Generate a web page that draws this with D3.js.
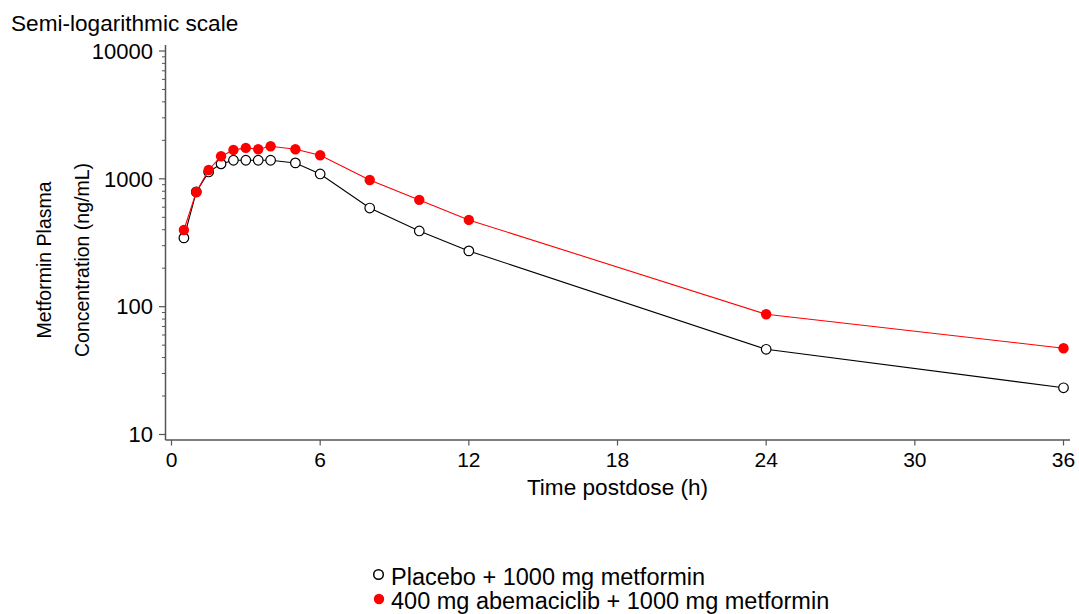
<!DOCTYPE html>
<html>
<head>
<meta charset="utf-8">
<script src="https://cdn.jsdelivr.net/npm/d3@7"></script>
<style>
  html, body { margin: 0; padding: 0; background: #fff; }
  svg { display: block; font-family: Arial, "Liberation Sans", sans-serif; }
</style>
</head>
<body>
<svg id="chart" width="1079" height="614"></svg>
<script>
// ---- data ----
const times = [0.5, 1, 1.5, 2, 2.5, 3, 3.5, 4, 5, 6, 8, 10, 12, 24, 36];
const placebo = [345, 790, 1132, 1309, 1398, 1398, 1398, 1398, 1332, 1092, 591, 391, 273, 46.4, 23.2];
const abemaciclib = [398, 789, 1173, 1503, 1683, 1745, 1704, 1799, 1704, 1530, 980, 684, 477, 87.2, 47.3];
const xTicks = [0, 6, 12, 18, 24, 30, 36];
const yTicks = [10, 100, 1000, 10000];
const seriesNames = ["Placebo + 1000 mg metformin", "400 mg abemaciclib + 1000 mg metformin"];
const titleText = "Semi-logarithmic scale";
const xTitle = "Time postdose (h)";
const yTitleLines = ["Metformin Plasma", "Concentration (ng/mL)"];

// ---- layout ----
const svg = d3.select("#chart");
const axisColor = "#555";
const x = d3.scaleLinear().domain([0, 36]).range([171.5, 1063.5]);
const y = d3.scaleLog().domain([10, 10000]).range([434.5, 51]);
const axisX = 165.5, axisY = 440;

// title
svg.append("text").attr("x", 11).attr("y", 31).attr("font-size", 22.6).attr("fill", "#000").text(titleText);

// y axis
svg.append("line").attr("x1", axisX).attr("x2", axisX).attr("y1", 45).attr("y2", axisY)
  .attr("stroke", axisColor).attr("stroke-width", 1.5);
const minor = [];
for (let d = 10; d < 10000; d *= 10) for (let k = 2; k <= 9; k++) minor.push(d * k);
svg.append("g").selectAll("line").data(minor).join("line")
  .attr("x1", axisX - 3.5).attr("x2", axisX).attr("y1", d => y(d)).attr("y2", d => y(d))
  .attr("stroke", axisColor).attr("stroke-width", 1);
svg.append("g").selectAll("line").data(yTicks).join("line")
  .attr("x1", axisX - 6.5).attr("x2", axisX).attr("y1", d => y(d)).attr("y2", d => y(d))
  .attr("stroke", axisColor).attr("stroke-width", 1.2);
svg.append("g").selectAll("text").data(yTicks).join("text")
  .attr("x", 153).attr("y", d => y(d)).attr("dy", "0.35em").attr("text-anchor", "end")
  .attr("font-size", 22).text(d => d);

// x axis
svg.append("line").attr("x1", axisX).attr("x2", 1070).attr("y1", axisY).attr("y2", axisY)
  .attr("stroke", axisColor).attr("stroke-width", 1.5);
svg.append("g").selectAll("line").data(xTicks).join("line")
  .attr("x1", d => x(d)).attr("x2", d => x(d)).attr("y1", axisY).attr("y2", axisY + 5.5)
  .attr("stroke", axisColor).attr("stroke-width", 1.2);
svg.append("g").selectAll("text").data(xTicks).join("text")
  .attr("x", d => x(d)).attr("y", 467).attr("text-anchor", "middle")
  .attr("font-size", 21).text(d => d);

// axis titles
svg.append("text").attr("x", (x(0) + x(36)) / 2).attr("y", 495).attr("text-anchor", "middle")
  .attr("font-size", 22.6).text(xTitle);
const yt = svg.append("g").attr("transform", "translate(0,260) rotate(-90)");
yt.append("text").attr("x", 0).attr("y", 51).attr("text-anchor", "middle").attr("font-size", 19.5).text(yTitleLines[0]);
yt.append("text").attr("x", 0).attr("y", 89).attr("text-anchor", "middle").attr("font-size", 19.5).text(yTitleLines[1]);

// series
const line = d3.line().x(d => x(d[0])).y(d => y(d[1]));
const pData = times.map((t, i) => [t, placebo[i]]);
const aData = times.map((t, i) => [t, abemaciclib[i]]);

svg.append("path").datum(pData).attr("d", line).attr("fill", "none").attr("stroke", "#000").attr("stroke-width", 1.1);
svg.append("g").selectAll("circle").data(pData).join("circle")
  .attr("cx", d => x(d[0])).attr("cy", d => y(d[1])).attr("r", 4.8)
  .attr("fill", "#fff").attr("stroke", "#000").attr("stroke-width", 1.2);

svg.append("path").datum(aData).attr("d", line).attr("fill", "none").attr("stroke", "#ff0000").attr("stroke-width", 1.1);
svg.append("g").selectAll("circle").data(aData).join("circle")
  .attr("cx", d => x(d[0])).attr("cy", d => y(d[1])).attr("r", 5.2)
  .attr("fill", "#ff0000");

// legend
svg.append("circle").attr("cx", 378.5).attr("cy", 574.5).attr("r", 4.8)
  .attr("fill", "#fff").attr("stroke", "#000").attr("stroke-width", 1.5);
svg.append("text").attr("x", 391).attr("y", 585).attr("font-size", 23.5).text(seriesNames[0]);
svg.append("circle").attr("cx", 379).attr("cy", 599).attr("r", 5.2).attr("fill", "#ff0000");
svg.append("text").attr("x", 391).attr("y", 609).attr("font-size", 23.5).text(seriesNames[1]);
</script>
</body>
</html>
